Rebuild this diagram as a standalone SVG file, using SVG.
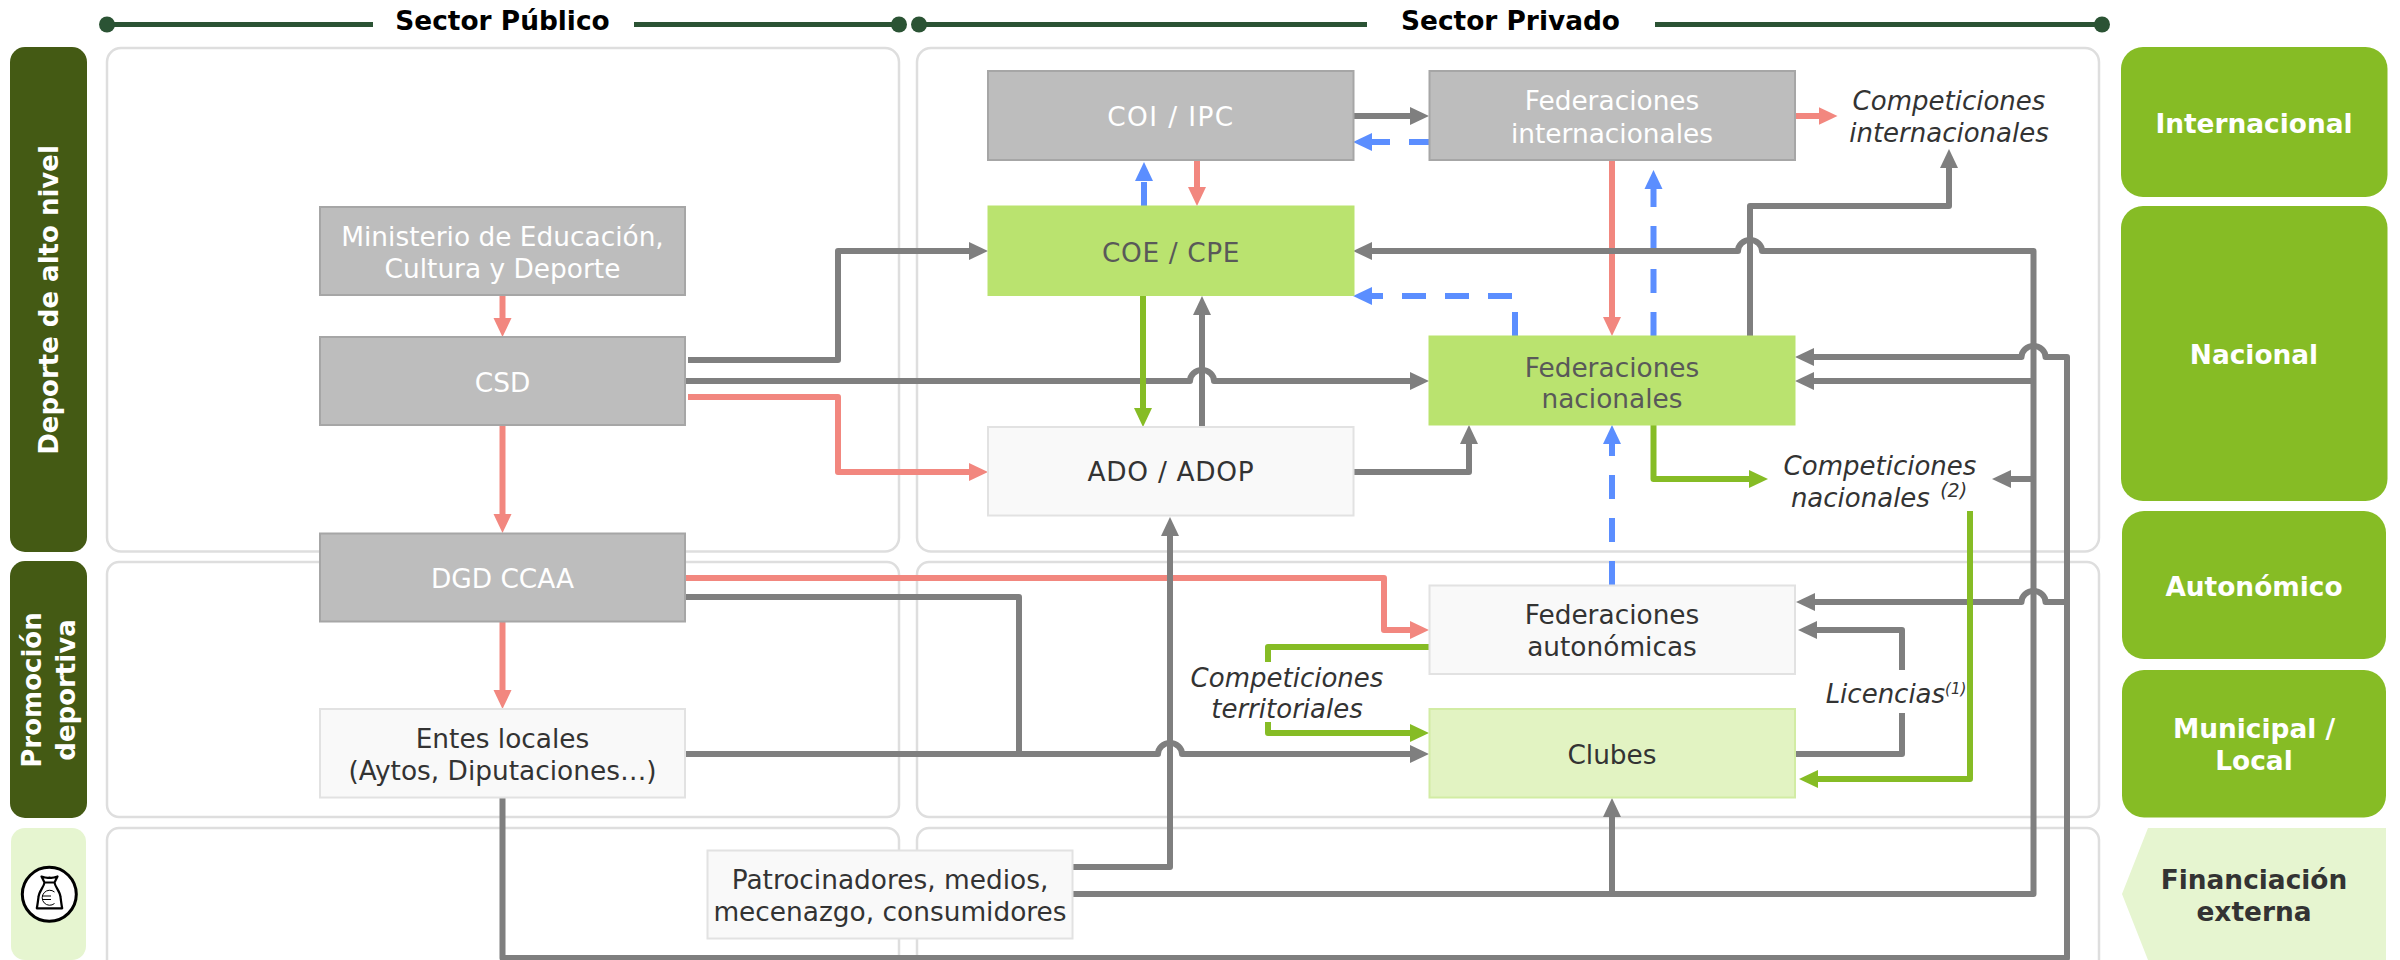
<svg xmlns="http://www.w3.org/2000/svg" width="2400" height="960" viewBox="0 0 2400 960">
<style>
text{font-family:"DejaVu Sans","Liberation Sans",sans-serif;font-size:26.400px;text-anchor:middle}
.hd{font-weight:700;fill:#000}
.it{font-style:italic;fill:#333;font-size:26px}
.side{font-weight:700;fill:#fff}
.vt{font-size:26px}
.dk{fill:#333;font-weight:700}
.panel{fill:#fff;stroke:#dedede;stroke-width:2.500}
.hline{stroke:#2b5334;stroke-width:5;fill:none}
.dot{fill:#2b5334}
.gray rect{fill:#bdbdbd;stroke:#a6a6a6;stroke-width:2}
.gray text{fill:#fff}
.lite rect{fill:#f9f9f9;stroke:#e2e2e2;stroke-width:2}
.lite text{fill:#333}
.lime rect{fill:#bae36f;stroke:#bae36f}
.lime text{fill:#595959}
.pale rect{fill:#e2f3c2;stroke:#d2eca4;stroke-width:2}
.pale text{fill:#333}
.c{fill:none;stroke-width:6;stroke-linejoin:round}
.g{stroke:#7f7f7f}
.gh{marker-end:url(#ag)}
.p{stroke:#f2877f;marker-end:url(#ap)}
.b{stroke:#5b8eff;stroke-dasharray:24 19;marker-end:url(#ab)}
.v{stroke:#86bc25}
.vh{marker-end:url(#av)}
</style>
<defs>
<marker id="ag" markerUnits="userSpaceOnUse" markerWidth="22" markerHeight="20" refX="9" refY="10" orient="auto"><path d="M0,1L19,10L0,19z" fill="#7f7f7f"/></marker>
<marker id="ap" markerUnits="userSpaceOnUse" markerWidth="22" markerHeight="20" refX="9" refY="10" orient="auto"><path d="M0,1L19,10L0,19z" fill="#f2877f"/></marker>
<marker id="ab" markerUnits="userSpaceOnUse" markerWidth="22" markerHeight="20" refX="9" refY="10" orient="auto"><path d="M0,1L19,10L0,19z" fill="#5b8eff"/></marker>
<marker id="av" markerUnits="userSpaceOnUse" markerWidth="22" markerHeight="20" refX="9" refY="10" orient="auto"><path d="M0,1L19,10L0,19z" fill="#86bc25"/></marker>
</defs>

<g id="panels">
<rect class="panel" x="107" y="48" width="792" height="503.500" rx="14"/>
<rect class="panel" x="917" y="48" width="1182" height="503.500" rx="14"/>
<rect class="panel" x="107" y="562" width="792" height="255" rx="12"/>
<rect class="panel" x="917" y="562" width="1182" height="255" rx="12"/>
<rect class="panel" x="107" y="828" width="792" height="160" rx="12"/>
<rect class="panel" x="917" y="828" width="1182" height="160" rx="12"/>
</g>

<g id="header-publico">
<path class="hline" d="M107 24.500H373M634 24.500H897"/>
<circle class="dot" cx="107" cy="24.500" r="8"/>
<circle class="dot" cx="899" cy="24.500" r="8"/>
<text class="hd" x="502.500" y="30">Sector Público</text>
</g>
<g id="header-privado">
<path class="hline" d="M919 24.500H1367M1655 24.500H2102"/>
<circle class="dot" cx="919" cy="24.500" r="8"/>
<circle class="dot" cx="2102" cy="24.500" r="8"/>
<text class="hd" x="1510.500" y="30">Sector Privado</text>
</g>

<g id="left-band-alto-nivel"><rect x="10" y="47" width="77" height="505" rx="15" fill="#445a14"/>
<text class="side vt" transform="translate(57.500 300) rotate(-90)">Deporte de alto nivel</text></g>
<g id="left-band-promocion"><rect x="10" y="561" width="77" height="257" rx="15" fill="#445a14"/>
<text class="side vt" transform="translate(41 690) rotate(-90)">Promoción</text>
<text class="side vt" transform="translate(74.500 690) rotate(-90)">deportiva</text></g>
<g id="left-band-financiacion"><rect x="11" y="828" width="75" height="132" rx="14" fill="#e6f5d0"/>
<circle cx="49.300" cy="894.300" r="27" fill="#fff" stroke="#000" stroke-width="3"/>
<path d="M41.500 876.500C46 878 48 878.500 49.500 877.500C51 878.500 53 878 57.500 876.500L54.500 882.500H44.500zM44.500 882.500C44 887 39 891 38.500 897C38 901 37.500 905 36.800 908.300H62.200C61.500 905 61 901 60.500 897C60 891 55 887 54.500 882.500" fill="#fff" stroke="#000" stroke-width="2.200" stroke-linejoin="round"/>
<path d="M54.500 892A7.500 7.500 0 1 0 54.500 903.500M42 896H51M42 899.500H51" fill="none" stroke="#000" stroke-width="1"/></g>

<g id="connectors">
<path class="c p" d="M502.500 295V327"/>
<path class="c p" d="M502.500 425V523"/>
<path class="c p" d="M502.500 622V699"/>
<path class="c g gh" d="M688 360H838V251H978"/>
<path class="c g gh" d="M685 381H1190A12 11 0 0 1 1214 381H1419"/>
<path class="c p" d="M688 397H838V472H978"/>
<path class="c v vh" d="M1143 296V417"/>
<path class="c g gh" d="M1202 427V306"/>
<path class="c b" style="stroke-dasharray:24 30" d="M1144 206V172"/>
<path class="c p" d="M1197 161V196"/>
<path class="c g gh" d="M1353 116H1419"/>
<path class="c b" d="M1433 142H1363"/>
<path class="c p" d="M1612 160V326"/>
<path class="c b" d="M1653.500 336V180"/>
<path class="c b" d="M1515 336V296H1363"/>
<path class="c g gh" d="M1072 894H2033.500V251H1762A12 11 0 0 0 1738 251H1363"/>
<path class="c g gh" d="M1750 336V206H1949V159"/>
<path class="c p" d="M1795 116H1827.500"/>
<path class="c g gh" d="M1353 472H1469V435"/>
<path class="c b" d="M1612 585V435"/>
<path class="c v vh" d="M1653.500 425V479H1758"/>
<path class="c g gh" d="M2033.500 479H2002"/>
<path class="c g gh" d="M502.500 798V958H2067V357H2045.500A12 11 0 0 0 2021.500 357H1805"/>
<path class="c g gh" d="M2033.500 381H1805"/>
<path class="c g gh" d="M2067 602H2045.500A12 11 0 0 0 2021.500 602H1806"/>
<path class="c g" d="M1795 754H1902V713"/>
<path class="c g gh" d="M1902 670V630H1808"/>
<path class="c v vh" d="M1970 511V779H1809"/>
<path class="c p" d="M685 578H1384V630H1419"/>
<path class="c g" d="M685 597H1019V754"/>
<path class="c g gh" d="M685 754H1158A12 11 0 0 1 1182 754H1419"/>
<path class="c g gh" d="M1072 867H1170V527"/>
<path class="c g gh" d="M1612 894V808"/>
<path class="c v" d="M1429 647H1268V662"/>
<path class="c v vh" d="M1268 722V733H1419"/>
</g>

<g id="ministerio" class="gray"><rect x="320" y="207" width="365" height="88"/><text x="502.500" y="246">Ministerio de Educación,</text><text x="502.500" y="277.700">Cultura y Deporte</text></g>
<g id="csd" class="gray"><rect x="320" y="337" width="365" height="88"/><text x="502.500" y="391.500">CSD</text></g>
<g id="dgd" class="gray"><rect x="320" y="533.500" width="365" height="88"/><text x="502.500" y="588">DGD CCAA</text></g>
<g id="entes" class="lite"><rect x="320" y="709" width="365" height="88.500"/><text x="502.500" y="748">Entes locales</text><text x="502.500" y="780">(Aytos, Diputaciones…)</text></g>
<g id="patrocinadores" class="lite"><rect x="707.500" y="850.500" width="365" height="88"/><text x="890" y="889">Patrocinadores, medios,</text><text x="890" y="920.700">mecenazgo, consumidores</text></g>
<g id="coi" class="gray"><rect x="988" y="71" width="365.500" height="89"/><text x="1171" y="126" letter-spacing="1.400">COI / IPC</text></g>
<g id="coe" class="lime"><rect x="988" y="206" width="366" height="89.500"/><text x="1171" y="261.700" letter-spacing="0.600">COE / CPE</text></g>
<g id="ado" class="lite"><rect x="988" y="427" width="365.500" height="88.500"/><text x="1171" y="481" letter-spacing="0.700">ADO / ADOP</text></g>
<g id="fed-int" class="gray"><rect x="1429.500" y="71" width="365.500" height="89"/><text x="1612" y="110">Federaciones</text><text x="1612" y="142.500">internacionales</text></g>
<g id="fed-nac" class="lime"><rect x="1429" y="336" width="366" height="89"/><text x="1612" y="376.700">Federaciones</text><text x="1612" y="408">nacionales</text></g>
<g id="fed-aut" class="lite"><rect x="1429.500" y="585.500" width="365.500" height="88.500"/><text x="1612" y="624">Federaciones</text><text x="1612" y="655.700">autonómicas</text></g>
<g id="clubes" class="pale"><rect x="1429.500" y="709" width="365.500" height="88.500"/><text x="1612" y="764">Clubes</text></g>

<g id="comp-int"><text class="it" x="1949" y="110">Competiciones</text><text class="it" x="1949" y="142">internacionales</text></g>
<g id="comp-nac"><text class="it" x="1880" y="475">Competiciones</text><text class="it" x="1879" y="506.700" word-spacing="2">nacionales <tspan font-size="19" dy="-10">(2)</tspan></text></g>
<g id="comp-ter"><text class="it" x="1287" y="686.700">Competiciones</text><text class="it" x="1287" y="718">territoriales</text></g>
<g id="licencias"><text class="it" x="1896" y="702.700">Licencias<tspan font-size="15" dy="-9">(1)</tspan></text></g>

<g id="band-int"><rect x="2121" y="47" width="266.500" height="150" rx="22" fill="#86bc25"/><text class="side" x="2254" y="133">Internacional</text></g>
<g id="band-nac"><rect x="2121" y="206" width="266.500" height="295" rx="22" fill="#86bc25"/><text class="side" x="2254" y="364">Nacional</text></g>
<g id="band-aut"><rect x="2122" y="511" width="264" height="148" rx="22" fill="#86bc25"/><text class="side" x="2254" y="596">Autonómico</text></g>
<g id="band-mun"><rect x="2122" y="670" width="264" height="147.500" rx="22" fill="#86bc25"/><text class="side" x="2254" y="738">Municipal /</text><text class="side" x="2254" y="770">Local</text></g>
<g id="band-fin"><path d="M2148 828H2386V960H2148L2122 894z" fill="#e6f5d0"/><text class="dk" x="2254" y="889.300">Financiación</text><text class="dk" x="2254" y="921">externa</text></g>
</svg>
